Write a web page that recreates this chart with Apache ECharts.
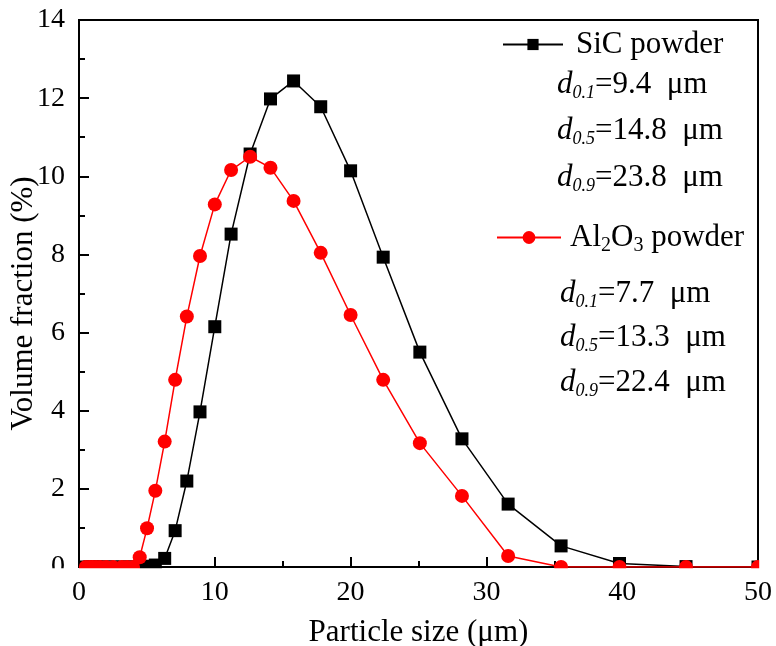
<!DOCTYPE html>
<html>
<head>
<meta charset="utf-8">
<script src="https://cdn.jsdelivr.net/npm/echarts@6/dist/echarts.min.js"></script>
<style>
html,body{margin:0;padding:0;background:#fff;}
#chart{width:776px;height:646px;}
</style>
</head>
<body>
<div id="chart"></div>
<script>
// ---- data ----
const particleSizes = [0.5, 0.8, 1.0, 1.26, 1.58, 2.0, 2.51, 3.16, 3.55, 3.98,
  4.47, 5.01, 5.62, 6.31, 7.08, 7.94, 8.91, 10.0, 11.2, 12.6, 14.1, 15.8, 17.8,
  20.0, 22.4, 25.1, 28.2, 31.6, 35.5, 39.8, 44.7, 50.0];
const sicValues = [0, 0, 0, 0, 0, 0, 0, 0, 0, 0,
  0, 0.02, 0.05, 0.22, 0.93, 2.2, 3.97, 6.15, 8.52, 10.57, 11.98, 12.44, 11.78,
  10.14, 7.93, 5.50, 3.28, 1.61, 0.54, 0.09, 0.01, 0];
const aluminaValues = [0, 0, 0, 0, 0, 0, 0, 0, 0, 0,
  0.25, 0.99, 1.95, 3.21, 4.79, 6.41, 7.96, 9.28, 10.16, 10.50, 10.22, 9.37, 8.04,
  6.45, 4.79, 3.17, 1.82, 0.28, 0, 0, 0, 0];
const seriesNames = ['SiC powder', 'Al2O3 powder'];
const sicStats = [['0.1', '9.4'], ['0.5', '14.8'], ['0.9', '23.8']];
const aluminaStats = [['0.1', '7.7'], ['0.5', '13.3'], ['0.9', '22.4']];
const xTitle = 'Particle size (\u03bcm)';
const yTitle = 'Volume fraction (%)';

// ---- layout ----
const FONT = 'Liberation Serif';
const G = {left: 79, right: 18, top: 20, bottom: 79};
const W = 776, H = 646;
const plotRight = W - G.right, plotBottom = H - G.bottom;

const chart = echarts.init(document.getElementById('chart'));

const richDefs = {
  g8: {width: 8},
  g4: {width: 4},
  a: {fontFamily: FONT, fontSize: 31, lineHeight: 36, color: '#000'},
  sub: {fontFamily: FONT, fontSize: 20, lineHeight: 20, verticalAlign: 'bottom', color: '#000'},
  d: {fontFamily: FONT, fontSize: 31, fontStyle: 'italic', lineHeight: 36, color: '#000'},
  ds: {fontFamily: FONT, fontSize: 18, fontStyle: 'italic', lineHeight: 18, verticalAlign: 'bottom', color: '#000'}
};

function statText(s) {
  return '{d|d}{ds|' + s[0] + '}{a|=' + s[1] + '  \u03bcm}';
}

const graphics = [];
const statBlocks = [
  {stats: sicStats, left: 557, ys: [87, 133, 180]},
  {stats: aluminaStats, left: 560, ys: [296, 340, 385]}
];
statBlocks.forEach(b => {
  b.stats.forEach((s, i) => {
    graphics.push({
      type: 'text', left: b.left, top: b.ys[i] - 18, z: 50,
      style: {text: statText(s), rich: richDefs, fill: '#000'}
    });
  });
});
// white masks: markers at the frame are cut by the plot frame
graphics.push({type: 'rect', z: 40, silent: true,
  shape: {x: 0, y: plotBottom + 1.2, width: W, height: 10}, style: {fill: '#fff'}});
graphics.push({type: 'rect', z: 40, silent: true,
  shape: {x: plotRight + 1.2, y: 0, width: W - plotRight, height: plotBottom + 12}, style: {fill: '#fff'}});

const axisFont = {fontFamily: FONT, fontSize: 28, color: '#000'};

const option = {
  backgroundColor: '#fff',
  animation: false,
  textStyle: {fontFamily: FONT},
  grid: {left: G.left, right: G.right, top: G.top, bottom: G.bottom,
    outerBoundsMode: 'none', containLabel: false,
    show: true, borderColor: '#000', borderWidth: 2, backgroundColor: 'transparent'},
  legend: [
    {
      data: [seriesNames[0]], left: 502, top: 29, padding: 0, orient: 'vertical',
      itemWidth: 60, itemHeight: 14,
      formatter: n => '{g8|}{a|SiC powder}',
      textStyle: {rich: richDefs}
    },
    {
      data: [seriesNames[1]], left: 496, top: 222, padding: 0, orient: 'vertical',
      itemWidth: 64, itemHeight: 16,
      formatter: n => '{g4|}{a|Al}{sub|2}{a|O}{sub|3}{a| powder}',
      textStyle: {rich: richDefs}
    }
  ],
  xAxis: {
    type: 'value', min: 0, max: 50, interval: 10,
    name: xTitle, nameLocation: 'middle', nameGap: 50, nameMoveOverlap: false,
    nameTextStyle: {fontFamily: FONT, fontSize: 31, color: '#000'},
    axisLine: {show: true, onZero: false, lineStyle: {color: '#000', width: 2}},
    axisTick: {show: true, inside: true, length: 10, lineStyle: {color: '#000', width: 2}},
    minorTick: {show: true, splitNumber: 2, length: 6, lineStyle: {color: '#000', width: 2}},
    axisLabel: Object.assign({margin: 12}, axisFont),
    splitLine: {show: false}, minorSplitLine: {show: false}
  },
  yAxis: {
    type: 'value', min: 0, max: 14, interval: 2,
    name: yTitle, nameLocation: 'middle', nameGap: 40, nameMoveOverlap: false,
    nameTextStyle: {fontFamily: FONT, fontSize: 31, color: '#000', padding: [0, 20, 0, 0]},
    axisLine: {show: true, onZero: false, lineStyle: {color: '#000', width: 2}},
    axisTick: {show: true, inside: true, length: 10, lineStyle: {color: '#000', width: 2}},
    minorTick: {show: true, splitNumber: 2, length: 6, lineStyle: {color: '#000', width: 2}},
    axisLabel: Object.assign({margin: 14}, axisFont),
    splitLine: {show: false}, minorSplitLine: {show: false}
  },
  graphic: graphics,
  series: [
    {
      name: seriesNames[0], type: 'line',
      data: particleSizes.map((s, i) => [s, sicValues[i]]),
      symbol: 'rect', symbolSize: 13,
      itemStyle: {color: '#000'},
      lineStyle: {color: '#000', width: 1.5},
      z: 3
    },
    {
      name: seriesNames[1], type: 'line',
      data: particleSizes.map((s, i) => [s, aluminaValues[i]]),
      symbol: 'circle', symbolSize: 14,
      itemStyle: {color: '#ff0000'},
      lineStyle: {color: '#ff0000', width: 1.5},
      z: 4
    }
  ]
};
chart.setOption(option);
</script>
</body>
</html>
